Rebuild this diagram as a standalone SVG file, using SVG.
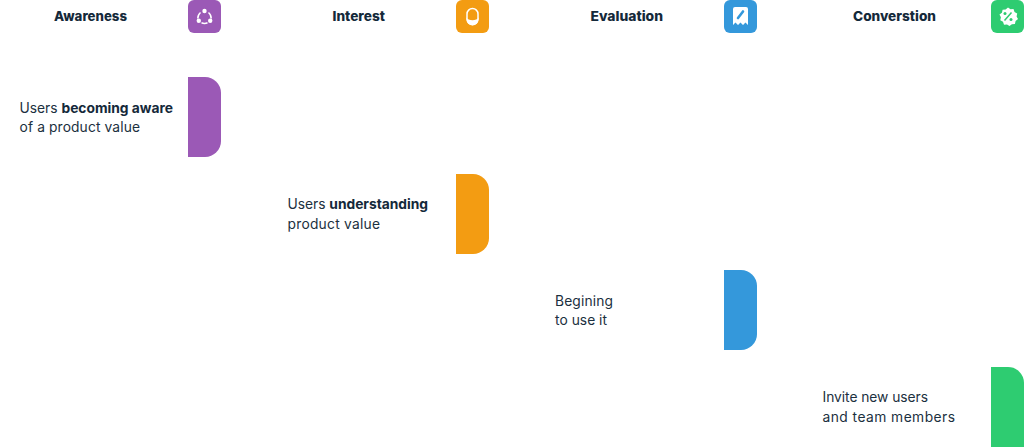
<svg xmlns="http://www.w3.org/2000/svg" width="1024" height="447" viewBox="0 0 1024 447">
<style>
text{font-family:Inter,"Noto Sans","Liberation Sans",sans-serif;fill:#1b3040;font-size:13.8px}
.h{font-weight:800;font-size:13.2px;fill:#14293a}
.b{font-weight:700;fill:#14293a}
.i{fill:none;stroke:#fff;stroke-width:1.5}
.w{fill:#fff}
</style>
<rect width="1024" height="447" fill="#fff"/>
<g id="awareness">
<text class="h" x="54" y="21" textLength="73" lengthAdjust="spacingAndGlyphs">Awareness</text>
<rect x="188" y="0" width="33" height="33" rx="6" fill="#9b59b6"/>
<path class="i" d="M200.500 12.500A7.500 7.500 0 0 0 197.800 18.500M208.500 12.500A7.500 7.500 0 0 1 211.200 18.500M201.500 22.800A7.500 7.500 0 0 0 207.500 22.800"/>
<circle class="w" cx="204.500" cy="11" r="2.200"/><circle class="w" cx="198.800" cy="20.800" r="2.200"/><circle class="w" cx="210.200" cy="20.800" r="2.200"/>
<path d="M188 77H205A16 16 0 0 1 221 93V141A16 16 0 0 1 205 157H188Z" fill="#9b59b6"/>
<text x="19.500" y="112.500" textLength="153.500">Users <tspan class="b">becoming aware</tspan></text>
<text x="19.500" y="132" textLength="120.500">of a product value</text>
</g>
<g id="interest">
<text class="h" x="332.500" y="21" textLength="52.500" lengthAdjust="spacingAndGlyphs">Interest</text>
<rect x="456" y="0" width="33" height="33" rx="6" fill="#f39c12"/>
<rect class="i" x="467" y="8.500" width="11" height="16" rx="5.500"/>
<path class="w" d="M466.500 17.500C468 21 477 21 478.500 17.500V19.500A6 6 0 0 1 466.500 19.500Z"/>
<path d="M456 174H473A16 16 0 0 1 489 190V238A16 16 0 0 1 473 254H456Z" fill="#f39c12"/>
<text x="287.500" y="209" textLength="140.500">Users <tspan class="b">understanding</tspan></text>
<text x="287.500" y="228.500" textLength="92.500">product value</text>
</g>
<g id="evaluation">
<text class="h" x="590.500" y="21" textLength="72.500" lengthAdjust="spacingAndGlyphs">Evaluation</text>
<rect x="724" y="0" width="33" height="33" rx="6" fill="#3498db"/>
<path class="w" d="M735 7H746A2 2 0 0 1 748 9V25L745.500 22.500L743 25L740.500 22.500L738 25L735.500 22.500L733 25V9A2 2 0 0 1 735 7Z"/>
<path d="M738 18L743 11.500" stroke="#3498db" stroke-width="2.600" stroke-linecap="round"/>
<path d="M724 270H741A16 16 0 0 1 757 286V334A16 16 0 0 1 741 350H724Z" fill="#3498db"/>
<text x="555" y="305.500" textLength="58">Begining</text>
<text x="555" y="325" textLength="52">to use it</text>
</g>
<g id="conversion">
<text class="h" x="853" y="21" textLength="83" lengthAdjust="spacingAndGlyphs">Converstion</text>
<rect x="991" y="0" width="33" height="33" rx="6" fill="#2ecc71"/>
<path class="w" d="M1008 7.500l2.500 1.800 3-.3 1 2.900 2.700 1.500-.6 3 1.400 2.700-2.400 1.900-.7 3-3 .2-2.400 1.900-2.500-1.700-3 .3-1-2.900-2.700-1.500.6-3-1.400-2.700 2.400-1.900.7-3 3-.2z"/>
<path d="M1004.500 20.500L1011.500 12.500" stroke="#2ecc71" stroke-width="1.500"/>
<circle cx="1005" cy="13.500" r="1.500" fill="#2ecc71"/><circle cx="1011" cy="19.500" r="1.500" fill="#2ecc71"/>
<path d="M991 367H1008A16 16 0 0 1 1024 383V447H991Z" fill="#2ecc71"/>
<text x="822.500" y="402" textLength="105.500">Invite new users</text>
<text x="822.500" y="421.500" textLength="132.500">and team members</text>
</g>
<g id="connectors"></g>
</svg>
